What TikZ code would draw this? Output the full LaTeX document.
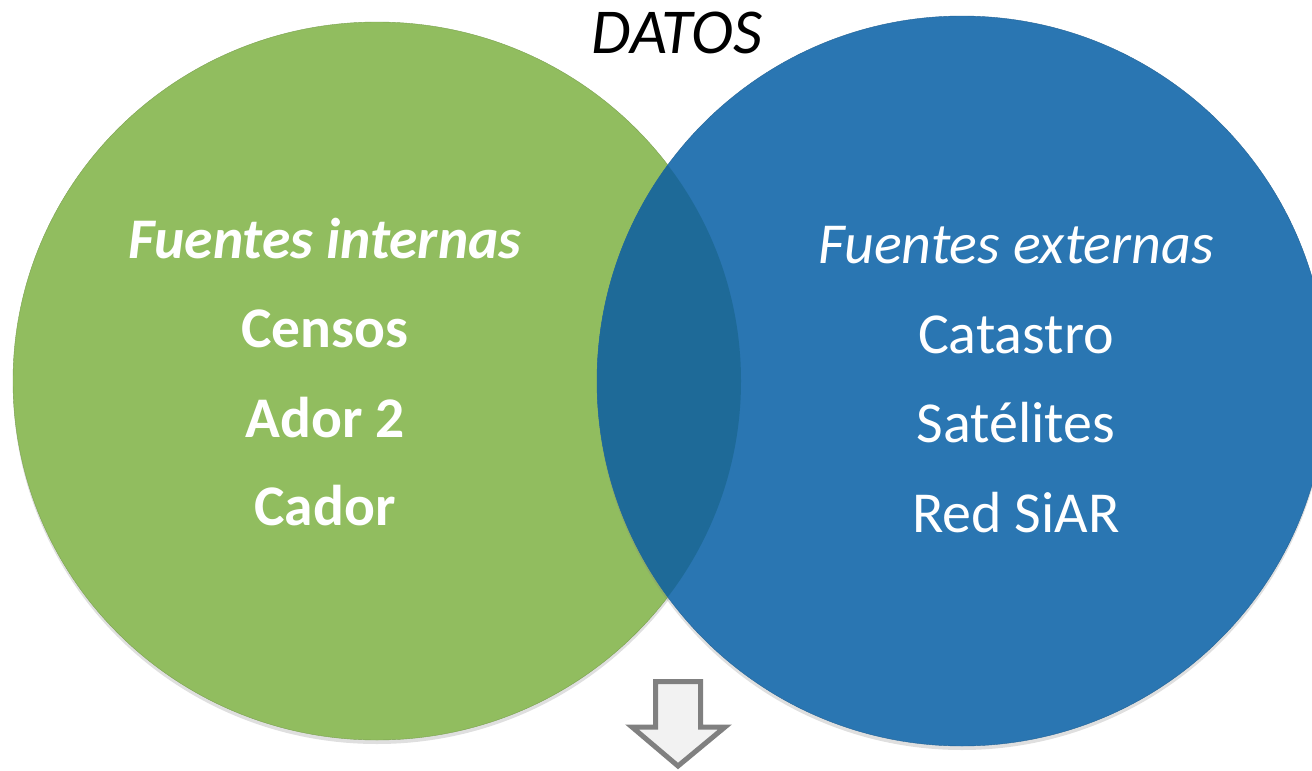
\documentclass[tikz,border=0pt]{standalone}
\usepackage{fontspec}
\setmainfont{Carlito}
\usetikzlibrary{shadows}
\definecolor{verde}{HTML}{91BD5F}
\definecolor{azul}{HTML}{2A76B2}
\definecolor{cruce}{HTML}{1E6A98}
\definecolor{flecha}{HTML}{F2F2F2}
\tikzset{
  fuente/.style={text=white,anchor=base,font=\fontsize{58}{60}\selectfont},
  fuenteb/.style={text=white,anchor=base,font=\fontsize{57.5}{60}\selectfont\bfseries},
  sombra/.style={drop shadow={shadow xshift=0pt,shadow yshift=-4pt,opacity=.25}}
}
\begin{document}
\begin{tikzpicture}[x=1pt,y=-1pt]
\useasboundingbox (0,0) rectangle (1312,771);
\clip (0,0) rectangle (1312,771);

% los dos circulos
\fill [verde,sombra,draw=verde!85!black] (377,381) circle [x radius=364pt,y radius=359pt];
\fill [azul,sombra,draw=azul!85!black] (962,381) circle [radius=365pt];
\begin{scope}
\clip (377,381) circle [x radius=364pt,y radius=359pt];
\fill [cruce] (962,381) circle [radius=365pt];
\end{scope}

\node [anchor=base,font=\fontsize{64}{66}\selectfont\itshape] (datos) at (677,53) {DATOS};

\node [fuenteb,font=\fontsize{57.5}{60}\selectfont\bfseries\itshape] (internas) at (325,258) {Fuentes internas};
\node [fuenteb] (censos) at (325,347) {Censos};
\node [fuenteb] (ador) at (325,437) {Ador 2};
\node [fuenteb] (cador) at (325,525) {Cador};

\node [fuente,font=\fontsize{58}{60}\selectfont\itshape] (externas) at (1016,263) {Fuentes externas};
\node [fuente] (catastro) at (1016,353) {Catastro};
\node [fuente] (satelites) at (1016,442) {Satélites};
\node [fuente] (siar) at (1016,532) {Red SiAR};

% flecha hacia abajo
\draw [fill=flecha,draw=gray,line width=5pt,line join=miter]
  (655.5,681.5) -- (700.5,681.5) -- (700.5,727) -- (725,727) -- (678,766)
  -- (632,727) -- (655.5,727) -- cycle;
\end{tikzpicture}
\end{document}
